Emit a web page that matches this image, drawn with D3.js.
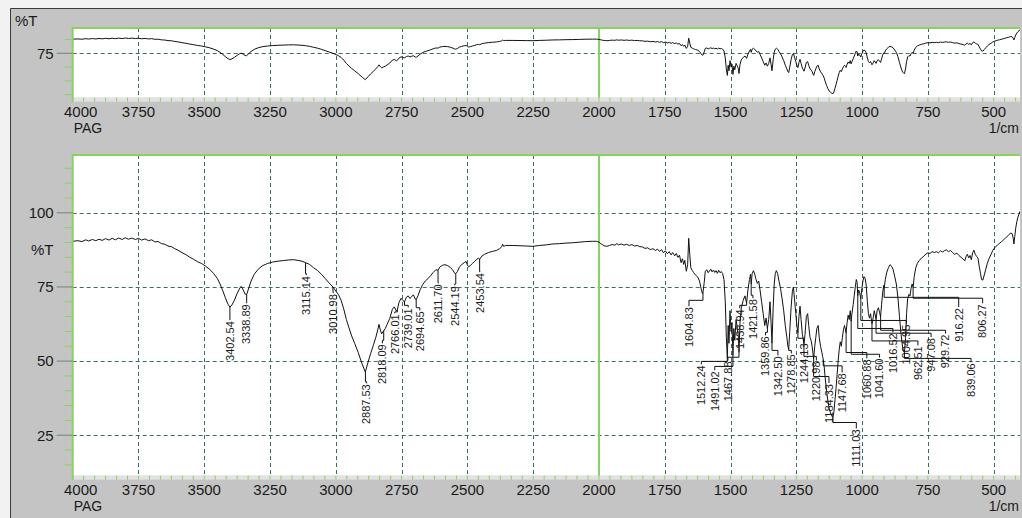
<!DOCTYPE html>
<html>
<head>
<meta charset="utf-8">
<script src="https://cdn.jsdelivr.net/npm/d3@7/dist/d3.min.js"></script>
<style>
  html, body { margin: 0; padding: 0; background: #c4c4c4; }
  svg { display: block; }
  text { font-family: "Liberation Sans", Arial, sans-serif; fill: #1a1a1a; }
</style>
</head>
<body>
<svg id="chart" width="1022" height="518"></svg>
<script>
// ---- IR spectrum of PAG: wavenumber (1/cm) and transmittance (%T) ----
const wavenumbers = [
  4000, 3980, 3965, 3950, 3940, 3925, 3912, 3900, 3888, 3875, 3862, 3850, 3838, 3825, 3812, 3800,
  3788, 3775, 3762, 3750, 3738, 3725, 3712, 3700, 3688, 3675, 3662, 3650, 3638, 3625, 3612, 3600,
  3585, 3570, 3555, 3540, 3525, 3510, 3495, 3480, 3465, 3450, 3440, 3430, 3420, 3410, 3402.5, 3395,
  3385, 3375, 3365, 3360, 3352, 3345, 3339, 3332, 3322, 3310, 3295, 3280, 3260, 3240, 3220, 3200,
  3180, 3160, 3140, 3125, 3115, 3100, 3085, 3070, 3055, 3040, 3025, 3011, 3000, 2990, 2980, 2970,
  2960, 2950, 2940, 2928, 2915, 2900, 2888, 2878, 2868, 2858, 2848, 2840, 2836, 2830, 2826, 2820,
  2812, 2805, 2795, 2785, 2778, 2770, 2766, 2760, 2752, 2745, 2739, 2732, 2725, 2718, 2712, 2705,
  2698, 2694, 2688, 2680, 2670, 2660, 2650, 2640, 2630, 2620, 2612, 2605, 2595, 2585, 2575, 2565,
  2555, 2548, 2544, 2538, 2530, 2522, 2512, 2505, 2500, 2495, 2488, 2480, 2472, 2465, 2458, 2453,
  2445, 2435, 2420, 2405, 2390, 2378, 2370, 2366, 2362, 2355, 2330, 2300, 2275, 2251, 2225, 2200,
  2175, 2150, 2125, 2100, 2075, 2050, 2025, 2010, 2000, 1990, 1980, 1970, 1960, 1950, 1940, 1932,
  1925, 1915, 1905, 1895, 1885, 1875, 1865, 1855, 1845, 1835, 1825, 1815, 1805, 1795, 1785, 1778,
  1770, 1762, 1755, 1748, 1740, 1733, 1726, 1720, 1712, 1706, 1700, 1694, 1688, 1683, 1678, 1674,
  1668, 1663, 1659, 1655, 1651, 1645, 1640, 1633, 1625, 1618, 1612, 1607, 1605, 1600, 1596, 1590,
  1585, 1580, 1575, 1570, 1565, 1560, 1555, 1550, 1545, 1540, 1535, 1530, 1525, 1520, 1516, 1512.2,
  1509, 1506, 1502, 1498, 1494.5, 1491, 1487.5, 1484, 1479, 1474, 1470, 1467.9, 1464, 1459, 1452, 1445,
  1439, 1434, 1428, 1424, 1421.6, 1418, 1413, 1408, 1403, 1398, 1393, 1388, 1382, 1376, 1370, 1365,
  1360, 1355, 1350, 1346, 1342.5, 1338, 1334, 1330, 1326, 1321, 1316, 1310, 1304, 1298, 1292, 1286,
  1282, 1279, 1275, 1270, 1265, 1261, 1257, 1252, 1248, 1244, 1240, 1236, 1232, 1227, 1224, 1221,
  1217, 1212, 1207, 1203, 1198, 1194, 1190, 1186, 1184, 1180, 1176, 1172, 1167, 1163, 1158, 1153,
  1150, 1147.7, 1144, 1140, 1135, 1130, 1125, 1120, 1115, 1111, 1107, 1103, 1099, 1095, 1091, 1087,
  1083, 1079, 1075, 1071, 1067, 1063, 1061, 1057, 1053, 1049, 1045, 1042, 1038, 1034, 1030, 1026,
  1022, 1019, 1016.5, 1013, 1009, 1005, 1001, 997, 993, 989, 985, 980, 976, 972, 968, 964,
  962.5, 958, 954, 950, 947, 943, 938, 934, 930, 926, 922, 918, 916, 912, 906, 900,
  894, 888, 882, 876, 870, 864, 858, 852, 846, 841, 839, 835, 831, 827, 822, 818,
  814, 810, 806, 802, 796, 790, 782, 774, 766, 758, 750, 742, 734, 726, 718, 710,
  702, 694, 686, 680, 672, 664, 656, 648, 640, 632, 624, 616, 610, 605, 600, 595,
  590, 585, 580, 575, 570, 565, 560, 555, 550, 546, 541, 536, 530, 524, 518, 510,
  503, 495, 485, 478, 470, 462, 452, 444, 436, 430, 426, 423, 420, 416, 412, 408,
  404, 400
];
const transmittance = [
  90.4, 90.6, 90.3, 90.9, 90.5, 91.0, 90.6, 91.1, 90.7, 91.3, 90.8, 91.4, 90.9, 91.5, 91.0, 91.6,
  91.1, 91.5, 91.0, 91.4, 90.8, 91.2, 90.6, 90.9, 90.2, 90.3, 89.6, 89.4, 88.8, 88.6, 87.9, 87.4,
  86.6, 85.9, 85.0, 84.3, 83.5, 82.9, 82.0, 81.0, 79.6, 77.8, 76.0, 73.8, 71.4, 69.2, 68.2, 68.9,
  70.6, 72.8, 74.6, 75.2, 74.0, 72.6, 72.4, 74.3, 77.0, 79.3, 81.0, 82.1, 82.9, 83.4, 83.7, 83.9,
  84.1, 84.2, 83.9, 83.6, 83.2, 82.6, 81.5, 80.6, 79.3, 77.8, 76.3, 75.0, 73.6, 72.4, 70.5, 67.6,
  64.0, 61.2, 58.5, 55.9, 52.9, 49.0, 46.3, 49.5, 52.5, 55.2, 58.0, 60.8, 62.4, 60.2, 59.2, 60.0,
  61.0, 62.4, 64.4, 67.5, 68.3, 66.9, 67.4, 69.8, 71.2, 70.4, 70.0, 71.5, 72.0, 71.1, 71.8, 72.3,
  70.9, 70.8, 72.0, 74.0, 75.8, 77.0, 77.8, 78.8, 79.9, 80.8, 80.6, 81.7, 82.3, 82.5, 82.2, 81.6,
  80.6, 79.6, 79.5, 80.2, 81.8, 82.5, 83.2, 83.6, 82.4, 81.8, 82.3, 83.0, 83.6, 84.3, 84.7, 84.4,
  85.4, 86.0, 86.6, 87.0, 87.3, 87.9, 88.5, 89.4, 88.7, 89.0, 89.0, 88.9, 88.8, 88.7, 89.0, 89.2,
  89.5, 89.6, 89.8, 89.9, 90.1, 90.3, 90.4, 90.4, 90.1, 89.4, 88.9, 88.7, 89.0, 89.3, 89.1, 89.6,
  89.2, 89.5, 89.1, 89.4, 89.0, 89.3, 88.8, 89.0, 88.6, 88.5, 88.0, 88.2, 87.6, 87.9, 87.3, 87.8,
  87.0, 87.6, 86.5, 87.2, 86.2, 86.9, 85.8, 86.6, 85.5, 86.3, 85.0, 85.7, 83.2, 84.5, 82.6, 84.0,
  80.3, 82.5, 91.4, 86.0, 81.5, 80.5, 79.8, 79.0, 78.4, 77.0, 74.5, 72.8, 73.0, 76.5, 80.3, 80.8,
  79.8, 80.4, 81.0, 80.1, 80.7, 79.9, 80.5, 79.6, 80.6, 79.8, 80.2, 79.5, 77.5, 70.0, 58.0, 51.0,
  62.0, 56.0, 67.0, 60.0, 63.0, 52.0, 61.0, 57.0, 64.0, 61.0, 58.0, 53.0, 63.0, 68.0, 70.5, 72.0,
  69.5, 74.0, 77.5, 79.3, 76.0, 79.5, 80.5, 79.3, 77.5, 76.2, 77.0, 74.0, 70.0, 66.0, 62.0, 64.5,
  61.0, 64.0, 70.0, 63.0, 56.0, 68.0, 76.0, 79.5, 80.5, 79.5, 77.0, 74.5, 71.0, 67.0, 62.0, 58.0,
  55.0, 54.0, 60.0, 68.0, 73.5, 75.0, 71.0, 66.0, 62.0, 59.5, 65.0, 68.5, 64.0, 59.0, 57.5, 55.5,
  59.0, 65.0, 66.0, 62.0, 58.0, 57.0, 55.0, 52.0, 51.0, 55.0, 58.0, 61.0, 62.0, 58.0, 55.0, 53.0,
  51.5, 50.5, 48.0, 44.0, 40.0, 36.5, 34.0, 32.5, 31.5, 31.0, 33.0, 37.0, 41.0, 45.5, 50.0, 54.0,
  56.5, 55.0, 58.0, 60.5, 62.0, 60.5, 59.5, 63.0, 65.5, 64.0, 67.0, 63.5, 66.5, 69.0, 72.0, 75.0,
  77.5, 76.5, 72.0, 74.0, 73.0, 71.0, 74.5, 77.0, 78.5, 78.0, 76.0, 70.0, 66.0, 64.5, 66.0, 63.5,
  62.5, 64.5, 67.0, 65.5, 64.0, 67.0, 68.0, 66.5, 65.0, 69.0, 73.0, 75.5, 74.5, 77.5, 80.0, 81.5,
  82.5, 82.0, 80.8, 78.5, 76.0, 71.5, 65.0, 59.0, 54.5, 53.0, 53.0, 58.0, 66.0, 71.0, 72.5, 72.0,
  74.5, 76.0, 75.0, 78.5, 81.5, 83.0, 84.0, 84.8, 85.3, 86.1, 86.5, 86.3, 86.9, 86.6, 86.9, 86.5,
  87.2, 86.8, 87.3, 87.5, 86.9, 87.3, 86.6, 86.0, 86.4, 85.6, 85.0, 84.4, 83.8, 85.2, 86.0, 84.8,
  85.6, 84.2, 86.5, 87.4, 86.0, 85.3, 84.8, 82.0, 79.5, 77.5, 77.3, 79.0, 81.0, 83.0, 84.5, 86.0,
  87.4, 88.3, 89.2, 89.7, 90.3, 90.9, 91.8, 92.4, 93.2, 93.0, 91.5, 89.5, 92.0, 95.0, 97.0, 98.5,
  99.5, 100.5
];

// ---- Peak annotations (peak wavenumber, as printed) ----
const peakLabels = [
  "3402.54", "3338.89", "3115.14", "3010.98", "2887.53", "2818.09", "2766.01", "2739.01",
  "2694.65", "2611.70", "2544.19", "2453.54", "1604.83", "1512.24", "1491.02", "1467.88",
  "1438.94", "1421.58", "1359.86", "1342.50", "1278.85", "1244.13", "1220.98", "1184.33",
  "1147.68", "1111.03", "1060.88", "1041.60", "1016.52", "1004.95", "962.51", "947.08",
  "929.72", "916.22", "839.06", "806.27"
];
// label placement in data units: text column (1/cm), leader elbow (%T), text end (%T)
const labelColumn = [
  3402.5, 3339, 3112, 3010, 2883, 2823, 2776, 2725,
  2681, 2611, 2548, 2453, 1658, 1611, 1560, 1510,
  1465, 1415, 1367, 1320, 1269, 1222, 1174, 1126,
  1076, 1022, 982, 934, 883, 832, 788, 738,
  683, 633, 586, 542
];
const labelElbow = [
  64.2, 70.0, 79.5, 73.4, 43.0, 57.0, 66.6, 68.8,
  68.0, 76.6, 76.0, 80.4, 70.5, 49.9, 48.2, 51.3,
  68.8, 72.2, 59.7, 53.6, 53.6, 57.7, 51.6, 44.8,
  48.4, 29.3, 52.9, 52.3, 61.0, 63.7, 56.8, 59.4,
  60.4, 71.5, 50.9, 71.2
];
const labelEnd = [
  63.8, 69.5, 79.0, 72.9, 42.5, 56.0, 66.1, 68.1,
  67.1, 76.2, 75.6, 80.0, 68.5, 48.9, 46.9, 50.2,
  67.8, 71.2, 58.7, 51.9, 52.6, 56.3, 50.2, 42.6,
  46.2, 27.3, 50.9, 51.2, 59.7, 62.6, 55.3, 58.1,
  59.3, 68.2, 49.6, 69.5
];

// ---- Axes ----
const xTickValues = [4000, 3750, 3500, 3250, 3000, 2750, 2500, 2250, 2000, 1750, 1500, 1250, 1000, 750, 500];
const overviewTicks = [75];
const overviewMinorTicks = [30, 45, 60, 90];
const detailTicks = [100, 75, 50, 25];
const detailMinorTicks = [15, 20, 30, 35, 40, 45, 55, 60, 65, 70, 80, 85, 90, 95, 105, 110, 115];

// ---------------------------------------------------------------
const W = 1022, H = 518;
const svg = d3.select("#chart");
const green = "#86d35e";
const gridColor = "#3c6f62";

const x = d3.scaleLinear().domain([4000, 400]).range([72.7, 1020]);

const spectrum = d3.zip(wavenumbers, transmittance);

// %T of the trace at any wavenumber (linear between recorded points)
function tAt(w) {
  for (let i = 0; i < wavenumbers.length - 1; i++) {
    const a = wavenumbers[i], b = wavenumbers[i + 1];
    if (w <= a && w >= b) {
      const f = (a - w) / (a - b);
      return transmittance[i] + f * (transmittance[i + 1] - transmittance[i]);
    }
  }
  return transmittance[transmittance.length - 1];
}

// window frame
svg.append("rect").attr("width", W).attr("height", H).attr("fill", "#f2f2f2");
svg.append("rect").attr("x", 10).attr("y", 8).attr("width", W - 10).attr("height", H - 8).attr("fill", "#c4c4c4");
svg.append("line").attr("x1", 10.5).attr("x2", W).attr("y1", 8.5).attr("y2", 8.5).attr("stroke", "#3a3a3a");
svg.append("line").attr("x1", 10.5).attr("x2", 10.5).attr("y1", 8.5).attr("y2", H).attr("stroke", "#3a3a3a");

function drawPanel(cfg) {
  const y = d3.scaleLinear().domain(cfg.domain).range([cfg.bottom, cfg.top]);
  const g = svg.append("g");
  const [x0, x1] = x.range();

  g.append("rect").attr("x", x0).attr("y", cfg.top).attr("width", x1 - x0).attr("height", cfg.bottom - cfg.top)
    .attr("fill", "#ffffff");

  // strip under the plot with minor ticks
  g.append("rect").attr("x", x0).attr("y", cfg.bottom).attr("width", x1 - x0).attr("height", 4).attr("fill", "#e2e2e2");
  const minorX = d3.range(0, 87).map(i => 4000 - i * 250 / 6).filter(v => v >= 400);
  g.selectAll(null).data(minorX).join("line")
    .attr("x1", d => x(d)).attr("x2", d => x(d))
    .attr("y1", cfg.bottom).attr("y2", cfg.bottom + 4)
    .attr("stroke", green).attr("stroke-width", 1);

  // grid
  g.selectAll(null).data(xTickValues.filter(v => v !== 4000 && v !== 2000)).join("line")
    .attr("x1", d => Math.round(x(d)) + 0.5).attr("x2", d => Math.round(x(d)) + 0.5)
    .attr("y1", cfg.top).attr("y2", cfg.bottom)
    .attr("stroke", gridColor).attr("stroke-dasharray", "4,3");
  g.selectAll(null).data(cfg.ticks).join("line")
    .attr("x1", x0).attr("x2", x1)
    .attr("y1", d => Math.round(y(d)) + 0.5).attr("y2", d => Math.round(y(d)) + 0.5)
    .attr("stroke", gridColor).attr("stroke-dasharray", "4,3");
  g.append("line")
    .attr("x1", x(2000)).attr("x2", x(2000)).attr("y1", cfg.top).attr("y2", cfg.bottom)
    .attr("stroke", green).attr("stroke-width", 2);

  // spectrum
  const clipId = "clip" + cfg.name;
  svg.append("clipPath").attr("id", clipId).append("rect")
    .attr("x", x0).attr("y", cfg.top).attr("width", x1 - x0).attr("height", cfg.bottom - cfg.top);
  const line = d3.line().x(d => x(d[0])).y(d => y(d[1]));
  g.append("path").datum(spectrum).attr("d", line)
    .attr("fill", "none").attr("stroke", "#111").attr("stroke-width", 1)
    .attr("stroke-linejoin", "round").attr("clip-path", `url(#${clipId})`);

  // peak labels with their leaders
  if (cfg.labels) {
    peakLabels.forEach((lab, i) => {
      const pw = +lab;
      const pt = tAt(pw);
      const pts = [[pw, pt], [pw, labelElbow[i]], [labelColumn[i], labelElbow[i]], [labelColumn[i], labelEnd[i]]];
      g.append("path")
        .attr("d", d3.line().x(d => x(d[0])).y(d => y(d[1]))(pts))
        .attr("fill", "none").attr("stroke", "#111").attr("stroke-width", 1);
      g.append("text")
        .attr("transform", `translate(${x(labelColumn[i])},${y(labelEnd[i]) + 1}) rotate(-90)`)
        .attr("text-anchor", "end").attr("dy", "0.35em")
        .style("font-size", "11px")
        .text(lab);
    });
  }

  // frame lines
  g.append("line").attr("x1", x0 - 1).attr("x2", x1).attr("y1", cfg.top).attr("y2", cfg.top)
    .attr("stroke", green).attr("stroke-width", 2);
  g.append("line").attr("x1", x0).attr("x2", x0).attr("y1", cfg.top).attr("y2", cfg.bottom + 4)
    .attr("stroke", green).attr("stroke-width", 2);

  // y ticks
  g.selectAll(null).data(cfg.minor).join("line")
    .attr("x1", x0 - 8).attr("x2", x0)
    .attr("y1", d => y(d)).attr("y2", d => y(d))
    .attr("stroke", green).attr("stroke-width", 1);
  g.selectAll(null).data(cfg.ticks).join("line")
    .attr("x1", x0 - 16).attr("x2", x0)
    .attr("y1", d => y(d)).attr("y2", d => y(d))
    .attr("stroke", "#6a8a6a").attr("stroke-width", 1);
  g.selectAll(null).data(cfg.ticks).join("text")
    .attr("x", x0 - 19).attr("y", d => y(d)).attr("dy", "0.36em")
    .attr("text-anchor", "end").style("font-size", "15px")
    .text(d => d);

  // x tick labels, sample name and unit
  g.selectAll(null).data(xTickValues).join("text")
    .attr("x", d => x(d) + (d === 4000 ? 8 : 0)).attr("y", cfg.bottom + 19.5)
    .attr("text-anchor", "middle").style("font-size", "15px")
    .text(d => d);
  g.append("text").attr("x", x0 + 1).attr("y", cfg.bottom + 35.5).style("font-size", "14px").text("PAG");
  g.append("text").attr("x", 1019).attr("y", cfg.bottom + 35.5).attr("text-anchor", "end")
    .style("font-size", "14px").text("1/cm");
  return y;
}

drawPanel({ name: "overview", top: 28, bottom: 97.7, domain: [26.7, 102.5],
  ticks: overviewTicks, minor: overviewMinorTicks, labels: false });
const yDetail = drawPanel({ name: "detail", top: 155, bottom: 475.7, domain: [11.35, 119.5],
  ticks: detailTicks, minor: detailMinorTicks, labels: true });

svg.append("text").attr("x", 15).attr("y", 26).style("font-size", "15px").text("%T");
svg.append("text").attr("x", 53.5).attr("y", yDetail(87.5)).attr("dy", "0.36em")
  .attr("text-anchor", "end").style("font-size", "15px").text("%T");
</script>
</body>
</html>
